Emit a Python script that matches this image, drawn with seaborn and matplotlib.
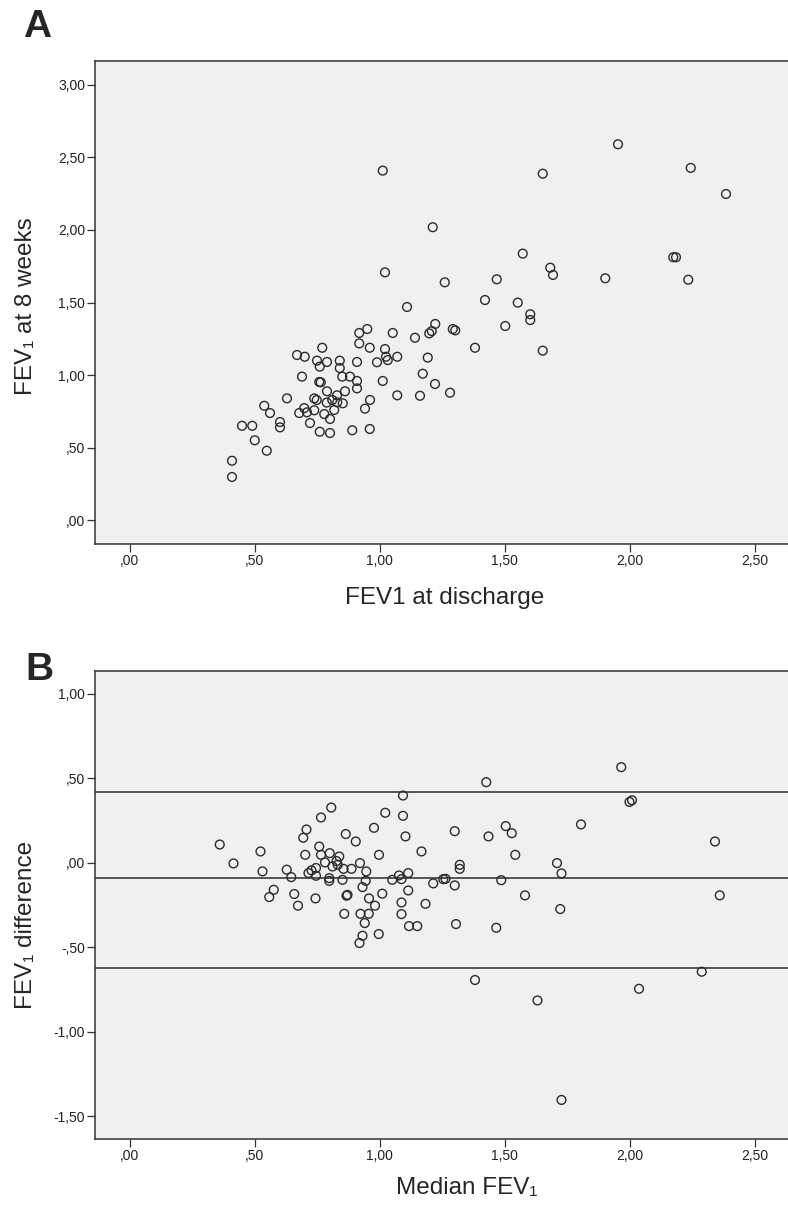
import numpy as np
import pandas as pd
import matplotlib
matplotlib.use("Agg")
import matplotlib.pyplot as plt
import seaborn as sns

# --- Panel A: FEV1 at discharge vs FEV1 at 8 weeks ---
fev1_discharge = [
    1.013, 1.954, 1.653, 2.245, 2.386, 1.213, 1.573, 2.175, 2.186, 1.683,
    1.694, 1.903, 2.235, 1.553, 1.603, 1.603, 1.503, 1.653,
    1.022, 1.261, 1.469, 1.422, 1.110, 1.223, 1.209, 1.199, 1.293, 1.303,
    1.382, 1.142, 1.053, 0.951, 0.919, 0.919, 0.961, 1.022, 1.026, 1.033,
    1.071, 0.990, 1.013, 1.193, 1.173, 1.222, 1.282, 1.162, 1.071, 0.771,
    0.670, 0.701, 0.750, 0.761, 0.790, 0.841, 0.841, 0.910, 0.851, 0.882,
    0.910, 0.910, 0.690, 0.759, 0.765, 0.790, 0.862, 0.830, 0.739, 0.749,
    0.789, 0.811, 0.831, 0.853, 0.962, 0.942, 0.819, 0.779, 0.802, 0.739,
    0.699, 0.710, 0.679, 0.722, 0.761, 0.802, 0.891, 0.961, 0.630, 0.539,
    0.562, 0.602, 0.602, 0.450, 0.491, 0.501, 0.549, 0.410, 0.410,
]
fev1_8weeks = [
    2.409, 2.591, 2.388, 2.428, 2.248, 2.019, 1.837, 1.812, 1.812, 1.740,
    1.690, 1.667, 1.657, 1.499, 1.419, 1.379, 1.338, 1.168,
    1.708, 1.639, 1.660, 1.517, 1.469, 1.352, 1.303, 1.287, 1.317, 1.308,
    1.188, 1.257, 1.290, 1.317, 1.290, 1.218, 1.188, 1.179, 1.126, 1.103,
    1.126, 1.088, 0.959, 1.120, 1.009, 0.938, 0.878, 0.857, 0.860, 1.188,
    1.138, 1.126, 1.099, 1.058, 1.090, 1.099, 1.048, 1.090, 0.989, 0.989,
    0.959, 0.908, 0.989, 0.952, 0.950, 0.888, 0.888, 0.860, 0.839, 0.828,
    0.810, 0.828, 0.812, 0.805, 0.828, 0.768, 0.759, 0.731, 0.697, 0.757,
    0.772, 0.743, 0.738, 0.669, 0.609, 0.600, 0.619, 0.628, 0.839, 0.788,
    0.738, 0.676, 0.639, 0.650, 0.650, 0.550, 0.478, 0.409, 0.297,
]

# --- Panel B: Bland-Altman ---
median_fev1 = [
    1.094, 0.807, 0.766, 1.023, 1.094, 0.978, 0.708, 0.695, 1.104, 0.865,
    0.905, 0.361, 0.524, 1.168, 0.759, 0.703, 0.766, 0.801, 0.839, 0.998,
    0.416, 0.782, 0.828, 0.833, 0.922, 0.746, 0.728, 0.716, 0.746, 0.812,
    0.856, 0.888, 0.947, 0.629, 0.647, 0.532, 0.799, 0.799, 0.852, 0.945,
    0.932, 1.115, 1.078, 1.088, 1.051, 1.215, 1.264, 1.115, 1.011, 0.868,
    0.872, 0.577, 0.559, 0.659, 0.744, 0.674, 0.958, 0.982, 1.088, 1.184,
    1.967, 1.427, 2.000, 2.010, 1.806, 1.301, 1.436, 1.505, 1.529, 1.543,
    2.342, 1.321, 1.321, 1.710, 1.728, 1.255, 1.301, 1.487, 1.582, 2.361,
    1.088, 1.723, 1.118, 1.151, 1.306, 1.467,
    1.728, 1.382, 1.632, 2.038, 2.289, 0.920, 0.932, 0.997, 0.941, 0.859,
    0.924, 0.957,
]
fev1_diff = [
    0.398, 0.327, 0.268, 0.296, 0.278, 0.207, 0.197, 0.148, 0.156, 0.170,
    0.126, 0.108, 0.067, 0.067, 0.096, 0.047, 0.047, 0.057, 0.037, 0.047,
    -0.004, 0.002, 0.010, -0.012, -0.002, -0.031, -0.045, -0.061, -0.077, -0.022,
    -0.036, -0.036, -0.051, -0.041, -0.085, -0.051, -0.091, -0.107, -0.101, -0.107,
    -0.144, -0.061, -0.075, -0.097, -0.101, -0.122, -0.095, -0.164, -0.183, -0.195,
    -0.190, -0.160, -0.203, -0.185, -0.211, -0.254, -0.211, -0.254, -0.235, -0.243,
    0.566, 0.477, 0.360, 0.370, 0.227, 0.187, 0.156, 0.217, 0.175, 0.047,
    0.126, -0.012, -0.036, -0.002, -0.063, -0.097, -0.134, -0.103, -0.193, -0.193,
    -0.304, -0.274, -0.375, -0.375, -0.363, -0.385,
    -1.404, -0.694, -0.815, -0.746, -0.645, -0.475, -0.432, -0.422, -0.357, -0.302,
    -0.302, -0.302,
]
mean_diff = -0.09
upper_loa = 0.42
lower_loa = -0.62

x_ticks = [0.0, 0.5, 1.0, 1.5, 2.0, 2.5]
x_tick_labels = [",00", ",50", "1,00", "1,50", "2,00", "2,50"]
ya_ticks = [0.0, 0.5, 1.0, 1.5, 2.0, 2.5, 3.0]
ya_tick_labels = [",00", ",50", "1,00", "1,50", "2,00", "2,50", "3,00"]
yb_ticks = [-1.5, -1.0, -0.5, 0.0, 0.5, 1.0]
yb_tick_labels = ["-1,50", "-1,00", "-,50", ",00", ",50", "1,00"]

sns.set_style("ticks")
plt.rcParams["font.family"] = ["Liberation Sans", "DejaVu Sans"]

df_a = pd.DataFrame({"discharge": fev1_discharge, "weeks8": fev1_8weeks})
df_b = pd.DataFrame({"median": median_fev1, "diff": fev1_diff})

fig = plt.figure(figsize=(7.88, 12.05), dpi=100)
ax_a = fig.add_axes([95 / 788, 1 - 544 / 1205, 694 / 788, 483 / 1205])
ax_b = fig.add_axes([95 / 788, 1 - 1139.3 / 1205, 694 / 788, 468.6 / 1205])

point_kws = dict(s=40, marker="o", facecolors="none", edgecolor="#2b2b2b",
                 linewidth=1.0, zorder=3)

sns.scatterplot(data=df_a, x="discharge", y="weeks8", ax=ax_a, **point_kws)
sns.scatterplot(data=df_b, x="median", y="diff", ax=ax_b, **point_kws)

# mean difference and limits of agreement
for val in [upper_loa, mean_diff, lower_loa]:
    ax_b.axhline(val, color="#555555", lw=1.4, zorder=2)

def style_axes(ax, yticks, ylabels, ylim):
    ax.set_facecolor("#F0F0F0")
    ax.set_xlim(-0.138, 2.638)
    ax.set_ylim(*ylim)
    ax.set_xticks(x_ticks)
    ax.set_xticklabels(x_tick_labels)
    ax.set_yticks(yticks)
    ax.set_yticklabels(ylabels)
    ax.tick_params(axis="both", direction="out", length=5.5, width=0.9,
                   color="#333333", labelsize=10, labelcolor="#222222", pad=1.5)
    for side in ["left", "bottom", "top"]:
        ax.spines[side].set_color("#333333")
        ax.spines[side].set_linewidth(1.1)
    ax.spines["right"].set_visible(False)
    ax.spines["top"].set_visible(True)
    ax.grid(False)

style_axes(ax_a, ya_ticks, ya_tick_labels, (-0.165, 3.165))
style_axes(ax_b, yb_ticks, yb_tick_labels, (-1.637, 1.137))

ax_a.set_xlabel("FEV1 at discharge", fontsize=17.5)
ax_a.set_ylabel("FEV\u2081 at 8 weeks", fontsize=17.5)
ax_b.set_xlabel("Median FEV\u2081", fontsize=17.5)
ax_b.set_ylabel("FEV\u2081 difference", fontsize=17.5)

ax_a.xaxis.set_label_coords(0.504, -0.089)
ax_a.yaxis.set_label_coords(-0.083, 0.493)
ax_b.xaxis.set_label_coords(0.536, -0.080)
ax_b.yaxis.set_label_coords(-0.083, 0.457)

fig.text(23 / 788, 1 - 37 / 1205, "A", fontsize=28, fontweight="bold", va="baseline")
fig.text(25 / 788, 1 - 680 / 1205, "B", fontsize=28, fontweight="bold", va="baseline")

fig.savefig("out.png", dpi=100, facecolor="white")
